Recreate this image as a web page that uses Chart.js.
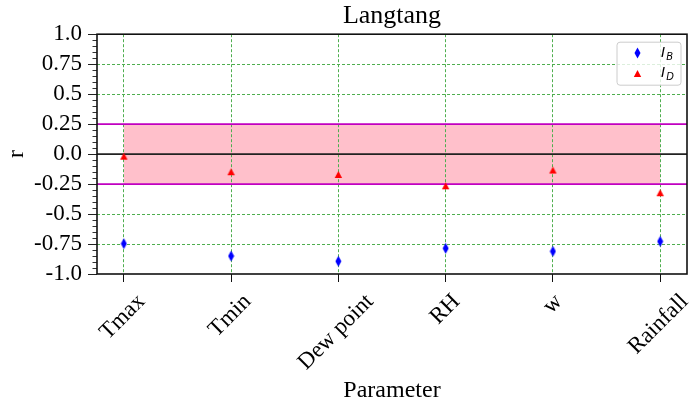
<!DOCTYPE html>
<html>
<head>
<meta charset="utf-8">
<script src="https://cdn.jsdelivr.net/npm/chart.js@4.4.1/dist/chart.umd.min.js"></script>
<style>
html,body{margin:0;padding:0;background:#fff;}
canvas{display:block;}
</style>
</head>
<body>
<canvas id="c" width="692" height="405"></canvas>
<script>
// ---- data ----
const categories = ['Tmax', 'Tmin', 'Dew point', 'RH', 'w', 'Rainfall'];
const seriesIB = [-0.747, -0.850, -0.894, -0.786, -0.811, -0.728];
const seriesID = [-0.017, -0.147, -0.170, -0.264, -0.133, -0.322];
const seriesLabels = ['I_B', 'I_D'];
const yTickValues = [-1, -0.75, -0.5, -0.25, 0, 0.25, 0.5, 0.75, 1];
const yTickLabels = ['-1.0', '-0.75', '-0.5', '-0.25', '0.0', '0.25', '0.5', '0.75', '1.0'];
const bandLimits = [-0.25, 0.25];
const zeroLine = 0;
const titleText = 'Langtang';
const xTitle = 'Parameter';
const yTitle = 'r';

// ---- styles ----
const SERIF = '"Liberation Serif", "Times New Roman", serif';
const gridGreen = '#4fae4f';

function makeDiamond(color) {
  const c = document.createElement('canvas');
  c.width = 7; c.height = 12;
  const g = c.getContext('2d');
  g.fillStyle = color;
  g.beginPath();
  g.moveTo(3.5, 0.5); g.lineTo(6.5, 6); g.lineTo(3.5, 11.5); g.lineTo(0.5, 6);
  g.closePath(); g.fill();
  return c;
}
function makeTriangle(color) {
  const c = document.createElement('canvas');
  c.width = 9; c.height = 9;
  const g = c.getContext('2d');
  g.fillStyle = color;
  g.beginPath();
  g.moveTo(4.5, 1); g.lineTo(8.2, 8); g.lineTo(0.8, 8);
  g.closePath(); g.fill();
  return c;
}
const diamondBlue = makeDiamond('#0000ff');
const triangleRed = makeTriangle('#ff0000');

const toPoints = arr => arr.map((v, i) => ({x: i, y: v}));

const decor = {
  id: 'decor',
  beforeDraw(chart) {
    const {ctx, scales: {x, y}} = chart;
    const x0 = x.getPixelForValue(0);
    const x1 = x.getPixelForValue(categories.length - 1);
    const yT = y.getPixelForValue(bandLimits[1]);
    const yB = y.getPixelForValue(bandLimits[0]);
    ctx.save();
    ctx.fillStyle = '#ffc0cb';
    ctx.fillRect(x0, yT, x1 - x0, yB - yT);
    ctx.restore();
  },
  beforeDatasetsDraw(chart) {
    const {ctx, chartArea: a, scales: {y}} = chart;
    ctx.save();
    ctx.lineWidth = 1.6;
    ctx.strokeStyle = '#c000c0';
    bandLimits.forEach(v => {
      const py = y.getPixelForValue(v);
      ctx.beginPath(); ctx.moveTo(a.left, py); ctx.lineTo(a.right, py); ctx.stroke();
    });
    ctx.strokeStyle = '#222';
    const pz = y.getPixelForValue(zeroLine);
    ctx.beginPath(); ctx.moveTo(a.left, pz); ctx.lineTo(a.right, pz); ctx.stroke();
    ctx.lineWidth = 1;
    ctx.strokeStyle = '#333';
    for (let k = -20; k <= 20; k++) {
      if (k % 5 === 0) continue;
      const py = Math.round(y.getPixelForValue(k / 20)) + 0.5;
      ctx.beginPath(); ctx.moveTo(a.left - 4.5, py); ctx.lineTo(a.left, py); ctx.stroke();
    }
    ctx.restore();
  },
  afterDraw(chart) {
    const {ctx, chartArea: a, scales: {x}} = chart;
    ctx.save();
    ctx.lineWidth = 1.6;
    ctx.strokeStyle = '#111';
    ctx.strokeRect(a.left, a.top, a.right - a.left, a.bottom - a.top);
    ctx.font = '23px ' + SERIF;
    ctx.fillStyle = '#000';
    ctx.textAlign = 'center';
    ctx.textBaseline = 'middle';
    categories.forEach((lab, i) => {
      const L = ctx.measureText(lab).width;
      const h = 23;
      const px = x.getPixelForValue(i) - 0.03 * L + 0.5;
      const py = a.bottom + 16 + (L + h) / (2 * Math.SQRT2);
      ctx.save();
      ctx.translate(px, py);
      ctx.rotate(-Math.PI / 4);
      ctx.fillText(lab, 0, 0);
      ctx.restore();
    });
    const bx = a.right - 70, by = a.top + 8, bw = 64, bh = 43, r = 3;
    ctx.beginPath();
    ctx.moveTo(bx + r, by);
    ctx.arcTo(bx + bw, by, bx + bw, by + bh, r);
    ctx.arcTo(bx + bw, by + bh, bx, by + bh, r);
    ctx.arcTo(bx, by + bh, bx, by, r);
    ctx.arcTo(bx, by, bx + bw, by, r);
    ctx.closePath();
    ctx.fillStyle = 'rgba(255,255,255,0.8)';
    ctx.fill();
    ctx.lineWidth = 1;
    ctx.strokeStyle = '#cccccc';
    ctx.stroke();
    chart.data.datasets.forEach((ds, i) => {
      const cy = by + 11 + i * 20;
      const img = ds.pointStyle;
      ctx.drawImage(img, Math.round(bx + 20 - img.width / 2), Math.round(cy - img.height / 2));
      const parts = ds.label.split('_');
      ctx.fillStyle = '#000';
      ctx.textAlign = 'left';
      ctx.textBaseline = 'alphabetic';
      ctx.font = 'italic 14px "DejaVu Sans"';
      const tx = bx + 44;
      ctx.fillText(parts[0], tx, cy + 4);
      const w = ctx.measureText(parts[0]).width;
      ctx.font = 'italic 10px "DejaVu Sans"';
      ctx.fillText(parts[1] || '', tx + w + 1, cy + 7);
    });
    ctx.restore();
  }
};

new Chart(document.getElementById('c'), {
  type: 'scatter',
  data: {
    datasets: [
      { label: seriesLabels[0], data: toPoints(seriesIB), pointStyle: diamondBlue, pointRadius: 4, pointHoverRadius: 4,
        backgroundColor: '#0000ff', borderColor: '#0000ff', showLine: false },
      { label: seriesLabels[1], data: toPoints(seriesID), pointStyle: triangleRed, pointRadius: 4, pointHoverRadius: 4,
        backgroundColor: '#ff0000', borderColor: '#ff0000', showLine: false }
    ]
  },
  options: {
    responsive: false,
    animation: false,
    devicePixelRatio: 1,
    layout: { padding: { top: 0, right: 4, bottom: 0, left: 0 } },
    plugins: {
      legend: { display: false },
      tooltip: { enabled: false },
      title: {
        display: true, text: titleText, fullSize: false, color: '#000',
        font: { family: SERIF, size: 26, weight: 'normal' },
        padding: { top: 1, bottom: 2 }
      }
    },
    scales: {
      x: {
        type: 'linear', min: -0.25, max: 5.25,
        afterBuildTicks: s => { s.ticks = categories.map((_, i) => ({ value: i })); },
        afterFit: s => { s.height = 131; },
        ticks: { display: false },
        grid: { color: gridGreen, lineWidth: 1, drawTicks: true, tickLength: 8, tickColor: '#111', tickWidth: 1 },
        border: { display: false, dash: [3, 2] },
        title: { display: true, text: xTitle, color: '#000', font: { family: SERIF, size: 24 }, padding: { top: 0, bottom: 0 } }
      },
      y: {
        type: 'linear', min: -1, max: 1,
        afterBuildTicks: s => { s.ticks = yTickValues.map(v => ({ value: v })); },
        afterFit: s => { s.width = 97; },
        ticks: {
          autoSkip: false, color: '#000', padding: 6,
          font: { family: SERIF, size: 23 },
          callback: v => yTickLabels[yTickValues.indexOf(v)]
        },
        grid: {
          color: c => {
            const v = c.tick ? c.tick.value : null;
            if (v === -1 || v === 1 || v === zeroLine || bandLimits.includes(v)) return 'rgba(0,0,0,0)';
            return gridGreen;
          },
          lineWidth: 1, tickLength: 9, tickColor: '#222', tickWidth: 1
        },
        border: { display: false, dash: [3, 2] },
        title: { display: true, text: yTitle, color: '#000', font: { family: SERIF, size: 24 }, padding: { top: 2, bottom: 0 } }
      }
    }
  },
  plugins: [decor]
});
</script>
</body>
</html>
